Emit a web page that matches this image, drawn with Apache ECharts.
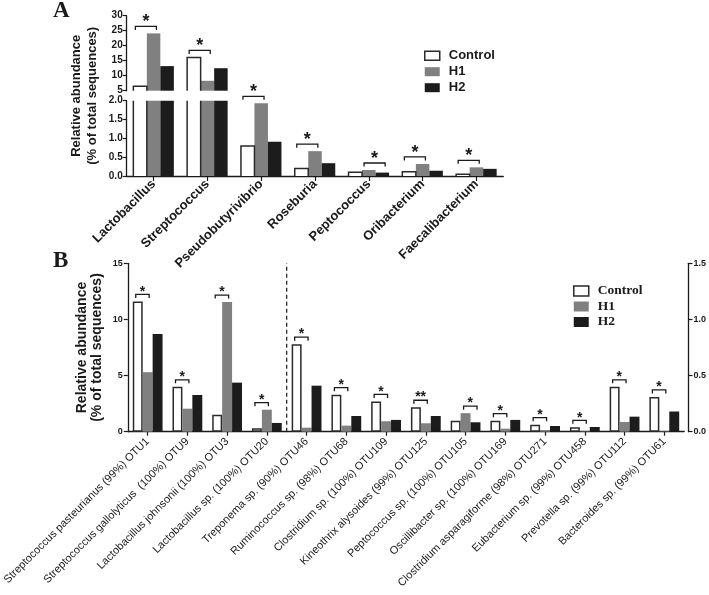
<!DOCTYPE html>
<html><head><meta charset="utf-8">
<script src="https://cdn.jsdelivr.net/npm/echarts@6/dist/echarts.min.js"></script>
<style>html,body{margin:0;padding:0;background:#fff}#c{width:709px;height:595px}</style>
</head><body><div id="c"></div>
<script>
// ---------- Panel A data ----------
const categoriesA = ['Lactobacillus','Streptococcus','Pseudobutyrivibrio','Roseburia','Peptococcus','Oribacterium','Faecalibacterium'];
const controlA = [6.5, 16.1, 0.80, 0.20, 0.10, 0.115, 0.045];
const h1A      = [24.1, 8.3, 1.93, 0.66, 0.16, 0.32, 0.23];
const h2A      = [13.2, 12.5, 0.91, 0.34, 0.09, 0.14, 0.19];
// significance: [category index, first bar (0=Control,1=H1,2=H2), second bar, label]
const sigA = [[0,0,1,'*'],[1,0,1,'*'],[2,0,1,'*'],[3,0,1,'*'],[4,1,2,'*'],[5,0,1,'*'],[6,0,1,'*']];
const ticksAUpper = [5, 30, 5];   // min, max, interval
const ticksALower = [0, 2, 0.5];

// ---------- Panel B data ----------
const categoriesBLeft = ['Streptococcus pasteurianus (99%) OTU1','Streptococcus gallolyticus  (100%) OTU9','Lactobacillus johnsonii (100%) OTU3','Lactobacillus sp. (100%) OTU20'];
const controlBLeft = [11.6, 4.0, 1.5, 0.3];
const h1BLeft      = [5.3, 2.05, 11.55, 1.96];
const h2BLeft      = [8.7, 3.27, 4.37, 0.78];
const sigBLeft = [[0,0,1,'*'],[1,0,1,'*'],[2,0,1,'*'],[3,0,1,'*']];

const categoriesBRight = ['Treponema sp. (90%) OTU46','Ruminococcus sp. (98%) OTU68','Clostridium sp. (100%) OTU109','Kineothrix alysoides (99%) OTU125','Peptococcus sp. (100%) OTU105','Oscillibacter sp. (100%) OTU169','Clostridium asparagiforme (98%) OTU271','Eubacterium sp. (99%) OTU458','Prevotella sp. (99%) OTU112','Bacteroides sp. (99%) OTU61'];
const controlBRight = [0.78, 0.33, 0.27, 0.218, 0.098, 0.098, 0.063, 0.039, 0.40, 0.31];
const h1BRight      = [0.036, 0.054, 0.093, 0.075, 0.165, 0.027, 0.015, 0.004, 0.087, 0.004];
const h2BRight      = [0.41, 0.14, 0.105, 0.14, 0.084, 0.105, 0.051, 0.042, 0.134, 0.18];
const sigBRight = [[0,0,1,'*'],[1,0,1,'*'],[2,0,1,'*'],[3,0,1,'**'],[4,1,2,'*'],[5,0,1,'*'],[6,0,1,'*'],[7,0,1,'*'],[8,0,1,'*'],[9,0,1,'*']];
const ticksBLeft = [0, 15, 5];
const ticksBRight = [0, 1.5, 0.5];

const seriesNames = ['Control','H1','H2'];

// ---------- styles ----------
const SANS = '"Liberation Sans", Arial, Helvetica, sans-serif';
const SERIF = '"Liberation Serif", "Times New Roman", serif';
const INK = '#1a1a1a';
const OUTLINE = '#2a2a2a';
const barStyles = [
  {color:'#ffffff', borderColor:OUTLINE, borderWidth:1.5},
  {color:'#808080'},
  {color:'#1c1c1c'}
];
const GAP_A = 0.247, GAP_B = 0.25;

function bracketSeries(name, xi, sigList, arrs, gap, filter, cfg) {
  const list = sigList.filter(s => filter(Math.max(arrs[s[1]][s[0]], arrs[s[2]][s[0]])));
  return {
    type:'custom', name:name, xAxisIndex:xi, yAxisIndex:xi, silent:true, z:5,
    data: list.map(s => [s[0], Math.max(arrs[s[1]][s[0]], arrs[s[2]][s[0]])]),
    renderItem: function(params, api) {
      const s = list[params.dataIndex];
      const c = api.coord([api.value(0), api.value(1)]);
      const band = api.size([1, 0])[0];
      const bw = band * (1 - gap) / 3;
      const gl = c[0] - 1.5 * bw;
      const x1 = gl + (s[1] + cfg.l) * bw, x2 = gl + (s[2] + cfg.r) * bw;
      const y = c[1] - cfg.dy;
      return {type:'group', children:[
        {type:'polyline', shape:{points:[[x1, y + 3.5],[x1, y],[x2, y],[x2, y + 3.5]]},
         style:{stroke:INK, lineWidth:1.3, fill:null}},
        {type:'text', x:(x1 + x2) / 2, y:y - cfg.ty,
         style:{text:s[3], fill:INK, font:'bold ' + cfg.fs + 'px ' + SANS,
                align:'center', verticalAlign:'middle', textAlign:'center', textVerticalAlign:'middle'}}
      ]};
    }
  };
}

// open-ended outline of the Control bars in the broken-axis panel
function outlineSeries(xi, values, gap) {
  return {
    type:'custom', name:'outline' + xi, xAxisIndex:xi, yAxisIndex:xi, silent:true, z:4,
    data: values.map((v, i) => [i, v]),
    renderItem: function(params, api) {
      const c = api.coord([api.value(0), api.value(1)]);
      const band = api.size([1, 0])[0];
      const bw = band * (1 - gap) / 3;
      const xl = c[0] - 1.5 * bw, xr = xl + bw;
      const cs = params.coordSys;
      const top = cs.y, bottom = cs.y + cs.height;
      const yTop = c[1];
      const st = {stroke:OUTLINE, lineWidth:1.5, fill:null};
      if (yTop >= bottom) return null;
      if (yTop >= top) {
        return {type:'polyline', shape:{points:[[xl, bottom],[xl, yTop],[xr, yTop],[xr, bottom]]}, style:st};
      }
      return {type:'group', children:[
        {type:'line', shape:{x1:xl, y1:bottom, x2:xl, y2:top}, style:st},
        {type:'line', shape:{x1:xr, y1:bottom, x2:xr, y2:top}, style:st}
      ]};
    }
  };
}

function yAxisCommon(extra) {
  return Object.assign({
    type:'value', splitLine:{show:false},
    axisLine:{show:true, lineStyle:{color:INK, width:1.3}},
    axisTick:{show:true, length:4, lineStyle:{color:INK, width:1.2}}
  }, extra);
}

const chart = echarts.init(document.getElementById('c'), null, {renderer:'canvas'});

const series = [];
const addBars = (idx, arrs, gap, noBorder) => {
  arrs.forEach((d, k) => series.push({
    type:'bar', name:seriesNames[k], xAxisIndex:idx, yAxisIndex:idx, data:d,
    barGap:'0%', barCategoryGap:(gap * 100) + '%',
    itemStyle: noBorder ? {color:barStyles[k].color, borderWidth:0} : barStyles[k],
    clip:true, silent:true
  }));
};
addBars(0, [controlA, h1A, h2A], GAP_A, true);
addBars(1, [controlA, h1A, h2A], GAP_A, true);
addBars(2, [controlBLeft, h1BLeft, h2BLeft], GAP_B, false);
addBars(3, [controlBRight, h1BRight, h2BRight], GAP_B, false);
series.push(outlineSeries(0, controlA, GAP_A));
series.push(outlineSeries(1, controlA, GAP_A));

const cfgA = {l:0.15, r:0.71, dy:7, ty:4.3, fs:18};
const cfgB = {l:0.3, r:0.65, dy:7, ty:2.6, fs:14};
series.push(bracketSeries('sigAUp', 0, sigA, [controlA, h1A, h2A], GAP_A, v => v > ticksALower[1], cfgA));
series.push(bracketSeries('sigALow', 1, sigA, [controlA, h1A, h2A], GAP_A, v => v <= ticksALower[1], cfgA));
series.push(bracketSeries('sigBL', 2, sigBLeft, [controlBLeft, h1BLeft, h2BLeft], GAP_B, v => true, cfgB));
series.push(bracketSeries('sigBR', 3, sigBRight, [controlBRight, h1BRight, h2BRight], GAP_B, v => true, cfgB));
// dashed separator between the two parts of panel B
series.push({
  type:'custom', name:'sep', xAxisIndex:3, yAxisIndex:3, silent:true, data:[[0, ticksBRight[0]]],
  renderItem: function(params, api) {
    const p0 = api.coord([0, ticksBRight[0]]);
    const p1 = api.coord([0, ticksBRight[1]]);
    const band = api.size([1, 0])[0];
    const x = p0[0] - band / 2;
    return {type:'line', shape:{x1:x, y1:p0[1], x2:x, y2:p1[1]},
            style:{stroke:INK, lineWidth:1.2, lineDash:[4, 3]}};
  }
});

const xLabelA = {rotate:45, interval:0, margin:6, fontFamily:SANS, fontWeight:'bold', fontSize:13, color:INK};
const xLabelB = {rotate:45, interval:0, margin:8, fontFamily:SANS, fontSize:11, color:INK};
const xLine = {show:true, onZero:false, lineStyle:{color:INK, width:1.3}};
const legendData = [
  {name:'Control', itemStyle:{color:'#ffffff', borderColor:OUTLINE, borderWidth:1.5}},
  {name:'H1'}, {name:'H2'}
];

const option = {
  animation:false,
  backgroundColor:'#ffffff',
  grid:[
    {left:126.7, top:15.7, width:376.6, height:75},
    {left:126.7, top:100.7, width:376.6, height:75.3},
    {left:126.7, top:263.3, width:160, height:168.4},
    {left:286.7, top:263.3, width:400, height:168.4}
  ],
  xAxis:[
    {gridIndex:0, type:'category', data:categoriesA, show:false},
    {gridIndex:1, type:'category', data:categoriesA, axisLine:xLine,
     axisTick:{show:true, alignWithLabel:true, interval:0, length:5, lineStyle:{color:INK, width:1.2}}, axisLabel:xLabelA},
    {gridIndex:2, type:'category', data:categoriesBLeft, axisLine:xLine,
     axisTick:{show:true, alignWithLabel:true, interval:0, length:4, lineStyle:{color:INK, width:1.2}}, axisLabel:xLabelB},
    {gridIndex:3, type:'category', data:categoriesBRight, axisLine:xLine,
     axisTick:{show:true, alignWithLabel:true, interval:0, length:4, lineStyle:{color:INK, width:1.2}}, axisLabel:xLabelB}
  ],
  yAxis:[
    yAxisCommon({gridIndex:0, min:ticksAUpper[0], max:ticksAUpper[1], interval:ticksAUpper[2],
      axisLabel:{margin:4, fontFamily:SANS, fontWeight:'bold', fontSize:10, color:INK}}),
    yAxisCommon({gridIndex:1, min:ticksALower[0], max:ticksALower[1], interval:ticksALower[2],
      axisLabel:{margin:4, fontFamily:SANS, fontWeight:'bold', fontSize:10, color:INK, formatter:v => v.toFixed(1)}}),
    yAxisCommon({gridIndex:2, min:ticksBLeft[0], max:ticksBLeft[1], interval:ticksBLeft[2],
      axisLabel:{margin:5, fontFamily:SANS, fontWeight:'bold', fontSize:9, color:INK}}),
    yAxisCommon({gridIndex:3, position:'right', offset:4.3, min:ticksBRight[0], max:ticksBRight[1], interval:ticksBRight[2],
      axisLabel:{margin:5, fontFamily:SANS, fontWeight:'bold', fontSize:9, color:INK, formatter:v => v.toFixed(1)}})
  ],
  legend:[
    {data:legendData, orient:'vertical', left:424, top:48.7, padding:0, itemWidth:15, itemHeight:9, itemGap:2,
     icon:'rect', selectedMode:false,
     textStyle:{fontFamily:SANS, fontWeight:'bold', fontSize:13, color:INK, lineHeight:14, padding:[0,0,0,4]}},
    {data:legendData, orient:'vertical', left:573, top:283.5, padding:0, itemWidth:15, itemHeight:10, itemGap:0.5,
     icon:'rect', selectedMode:false,
     textStyle:{fontFamily:SERIF, fontWeight:'bold', fontSize:13.5, color:INK, lineHeight:15, padding:[0,0,0,4]}}
  ],
  graphic:[
    {type:'text', left:53, top:0, style:{text:'A', font:'bold 23px ' + SERIF, fill:INK}},
    {type:'text', left:53, top:250, style:{text:'B', font:'bold 23px ' + SERIF, fill:INK}},
    {type:'text', x:84.4, y:95.8, rotation:Math.PI/2,
     style:{text:'Relative abundance\n(% of total sequences)', font:'bold 13px ' + SANS, fill:INK,
            align:'center', verticalAlign:'middle', textAlign:'center', textVerticalAlign:'middle', lineHeight:15.5}},
    {type:'text', x:89.7, y:347.5, rotation:Math.PI/2,
     style:{text:'Relative abundance\n(% of total sequences)', font:'bold 14px ' + SANS, fill:INK,
            align:'center', verticalAlign:'middle', textAlign:'center', textVerticalAlign:'middle', lineHeight:15.5}}
  ],
  series:series
};
chart.setOption(option);
</script></body></html>
